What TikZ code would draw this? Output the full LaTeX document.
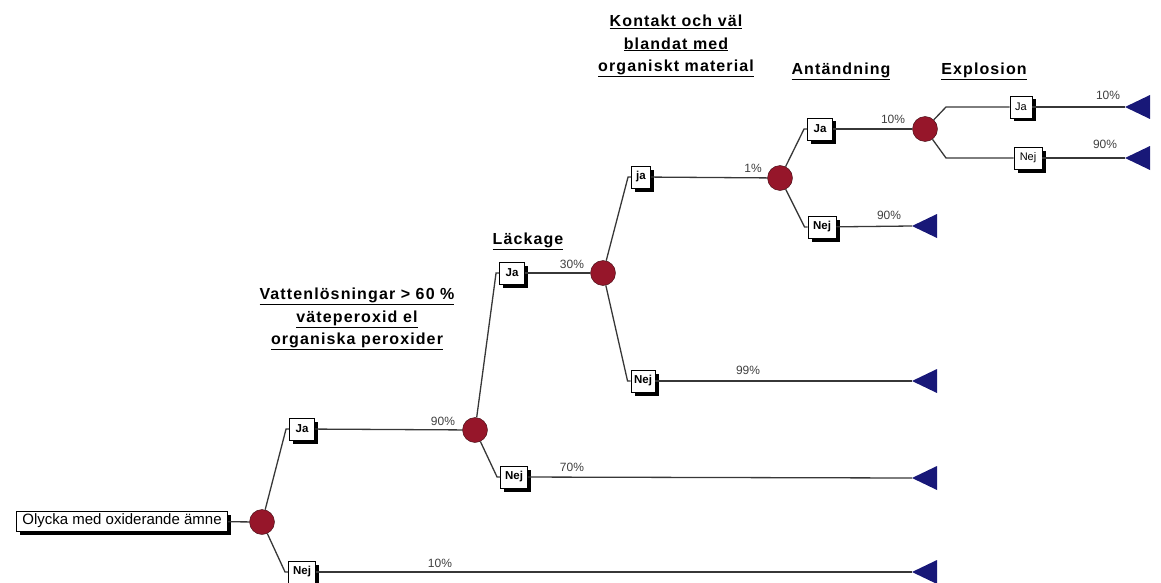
\documentclass[tikz,border=0pt]{standalone}
\usepackage{fontspec}
\setmainfont{Liberation Sans}
\newfontfamily\headfont[LetterSpace=7]{Liberation Sans}
\usetikzlibrary{shapes.geometric,shadows}
\definecolor{chancered}{RGB}{150,22,42}
\definecolor{leafblue}{RGB}{24,24,120}
\definecolor{linegray}{RGB}{55,55,55}
\tikzset{
 dbox/.style={draw,fill=white,line width=0.9pt,inner sep=0pt,minimum height=22pt,
   font=\fontsize{11.5}{11.5}\selectfont\bfseries,
   drop shadow={shadow xshift=3.5pt,shadow yshift=-3.5pt,fill=black,opacity=1}},
 chance/.style={circle,draw=black!60!chancered,fill=chancered,minimum size=25pt,inner sep=0pt},
 prob/.style={font=\fontsize{12}{12}\selectfont,text=black!75,inner sep=0pt},
 head/.style={font=\headfont\fontsize{16}{22.5}\selectfont\bfseries,align=center,inner sep=0pt},
 branch/.style={draw=linegray,line width=1.3pt}
}
\begin{document}
\begin{tikzpicture}[x=1pt,y=-1pt]
 \useasboundingbox (0,0) rectangle (1161,583);
 % headers
 \node[head] (h1) at (357,319) {\underline{Vattenlösningar > 60 \%}\\\underline{väteperoxid el}\\\underline{organiska peroxider}};
 \node[head] (h2) at (528,241) {\underline{Läckage}};
 \node[head] (h3) at (676,46) {\underline{Kontakt och väl}\\\underline{blandat med}\\\underline{organiskt material}};
 \node[head] (h4) at (841,71) {\underline{Antändning}};
 \node[head] (h5) at (984,71) {\underline{Explosion}};
 % boxes
 \node[dbox,minimum width=211pt,minimum height=20pt,font=\fontsize{15}{15}\selectfont] (root) at (122,521) {Olycka med oxiderande ämne};
 \node[dbox,minimum width=25pt] (ja1) at (302,429) {Ja};
 \node[dbox,minimum width=27pt] (nej1) at (302,572) {Nej};
 \node[dbox,minimum width=25pt] (ja2) at (512,273) {Ja};
 \node[dbox,minimum width=27pt] (nej2) at (514,477) {Nej};
 \node[dbox,minimum width=19pt] (ja3) at (641,177) {ja};
 \node[dbox,minimum width=24pt] (nej3) at (643,381) {Nej};
 \node[dbox,minimum width=25pt] (ja4) at (820,129) {Ja};
 \node[dbox,minimum width=28pt] (nej4) at (822,227) {Nej};
 \node[dbox,minimum width=22pt,font=\fontsize{11}{11}\selectfont] (ja5) at (1021,107) {Ja};
 \node[dbox,minimum width=28pt,font=\fontsize{11}{11}\selectfont] (nej5) at (1028,158) {Nej};
 % chance nodes
 \node[chance] (c1) at (262,522) {};
 \node[chance] (c2) at (475,430) {};
 \node[chance] (c3) at (603,273) {};
 \node[chance] (c4) at (780,178) {};
 \node[chance] (c5) at (925,129) {};
 % leaves
 \coordinate (l1) at (912,572);
 \coordinate (l2) at (912,478);
 \coordinate (l3) at (912,381);
 \coordinate (l4) at (912,226);
 \coordinate (l5) at (1125,107);
 \coordinate (l6) at (1125,158);
 \foreach \l in {l1,l2,l3,l4,l5,l6}
   \fill[leafblue] (\l) -- ++(25,-12) -- ++(0,24) -- cycle;
 % connectors
 \draw[branch] (root) -- (c1);
 \draw[branch] (c1) -- ([xshift=-3pt]ja1.west) -- (ja1.west);
 \draw[branch] (c1) -- ([xshift=-3pt]nej1.west) -- (nej1.west);
 \draw[branch] (ja1) -- (c2);
 \draw[branch] (nej1) -- (l1);
 \draw[branch] (c2) -- ([xshift=-3pt]ja2.west) -- (ja2.west);
 \draw[branch] (c2) -- ([xshift=-3pt]nej2.west) -- (nej2.west);
 \draw[branch] (ja2) -- (c3);
 \draw[branch] (nej2) -- (l2);
 \draw[branch] (c3) -- ([xshift=-3pt]ja3.west) -- (ja3.west);
 \draw[branch] (c3) -- ([xshift=-3pt]nej3.west) -- (nej3.west);
 \draw[branch] (ja3) -- (c4);
 \draw[branch] (nej3) -- (l3);
 \draw[branch] (c4) -- ([xshift=-3pt]ja4.west) -- (ja4.west);
 \draw[branch] (c4) -- ([xshift=-3pt]nej4.west) -- (nej4.west);
 \draw[branch] (ja4) -- (c5);
 \draw[branch] (nej4) -- (l4);
 \coordinate (e5a) at (946,107);
 \coordinate (e5b) at (946,158);
 \draw[branch] (c5) -- (e5a) -- (ja5);
 \draw[branch] (c5) -- (e5b) -- (nej5);
 \draw[branch] (ja5) -- (l5);
 \draw[branch] (nej5) -- (l6);
 % probabilities
 \node[prob] (p1) at (443,421) {90\%};
 \node[prob] (p2) at (440,563) {10\%};
 \node[prob] (p3) at (572,264) {30\%};
 \node[prob] (p4) at (572,467) {70\%};
 \node[prob] (p5) at (753,168) {1\%};
 \node[prob] (p6) at (748,370) {99\%};
 \node[prob] (p7) at (893,119) {10\%};
 \node[prob] (p8) at (889,215) {90\%};
 \node[prob] (p9) at (1108,95) {10\%};
 \node[prob] (p10) at (1105,144) {90\%};
\end{tikzpicture}
\end{document}
